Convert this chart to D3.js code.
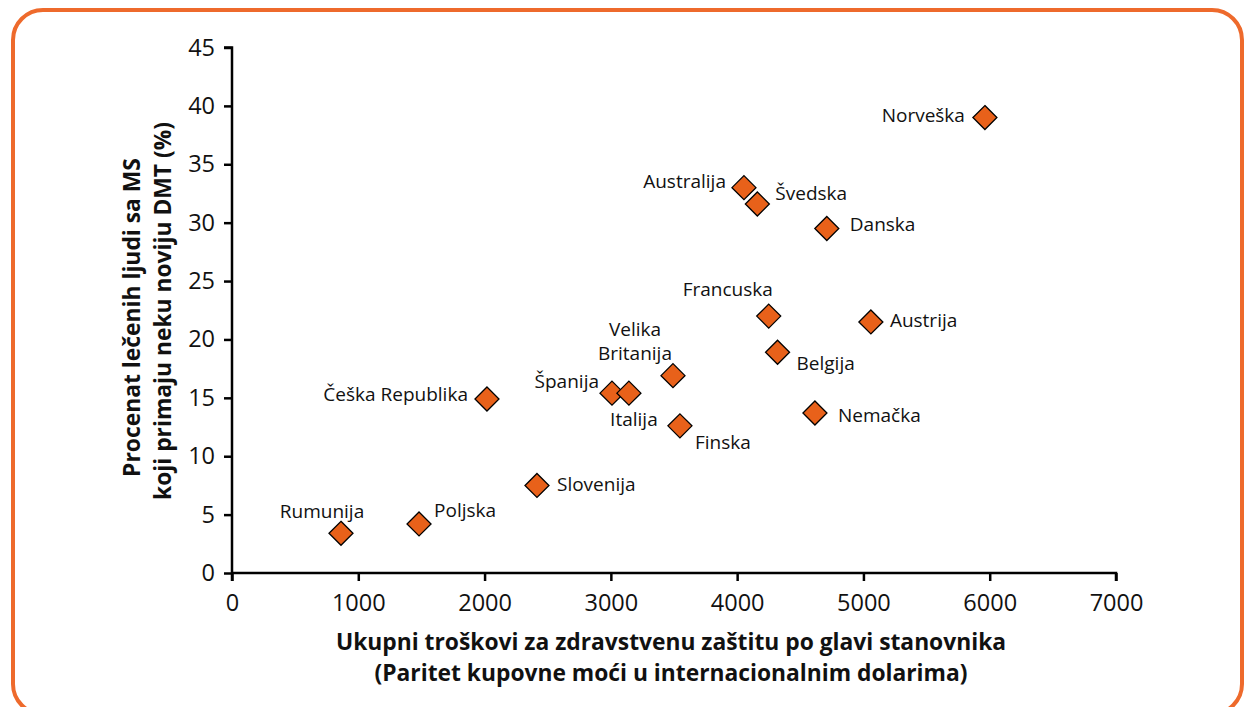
<!DOCTYPE html>
<html>
<head>
<meta charset="utf-8">
<script src="https://cdn.jsdelivr.net/npm/d3@7"></script>
<style>
  html, body { margin: 0; padding: 0; background: #fff; }
  svg { display: block; }
  text { font-family: "Open Sans", "Noto Sans", sans-serif; fill: #111; }
</style>
</head>
<body>
<svg id="chart" width="1247" height="707"></svg>
<script>
// ---- data ----
const countries = ["Rumunija", "Poljska", "Češka Republika", "Slovenija", "Španija", "Italija",
  "Velika Britanija", "Finska", "Australija", "Švedska", "Danska", "Francuska", "Belgija",
  "Austrija", "Nemačka", "Norveška"];
const spending = [863, 1481, 2019, 2415, 3009, 3143, 3492, 3547, 4054, 4160, 4710, 4250, 4320, 5059, 4616, 5962];
const treatedPct = [3.4, 4.2, 14.9, 7.5, 15.4, 15.4, 16.9, 12.6, 33.0, 31.6, 29.5, 22.0, 18.9, 21.5, 13.7, 39.0];
const xTicks = [0, 1000, 2000, 3000, 4000, 5000, 6000, 7000];
const yTicks = [0, 5, 10, 15, 20, 25, 30, 35, 40, 45];
const xTitle = ["Ukupni troškovi za zdravstvenu zaštitu po glavi stanovnika",
                "(Paritet kupovne moći u internacionalnim dolarima)"];
const yTitle = ["Procenat lečenih ljudi sa MS", "koji primaju neku noviju DMT (%)"];

// ---- layout (label placement relative to each marker) ----
const labelLayout = {
  "Rumunija": { anchor: "middle", dx: -19, dy: [-22] },
  "Poljska": { anchor: "start", dx: 15, dy: [-14] },
  "Češka Republika": { anchor: "end", dx: -19, dy: [-5] },
  "Slovenija": { anchor: "start", dx: 20, dy: [-1] },
  "Španija": { anchor: "end", dx: -13, dy: [-12] },
  "Italija": { anchor: "middle", dx: 5, dy: [26] },
  "Velika Britanija": { anchor: "middle", dx: -38, dy: [-46, -22], lines: ["Velika", "Britanija"] },
  "Finska": { anchor: "start", dx: 15, dy: [16] },
  "Australija": { anchor: "end", dx: -18, dy: [-6] },
  "Švedska": { anchor: "start", dx: 18, dy: [-11] },
  "Danska": { anchor: "start", dx: 23, dy: [-4] },
  "Francuska": { anchor: "middle", dx: -41, dy: [-27] },
  "Belgija": { anchor: "start", dx: 19, dy: [11] },
  "Austrija": { anchor: "start", dx: 19, dy: [-2] },
  "Nemačka": { anchor: "start", dx: 23, dy: [2] },
  "Norveška": { anchor: "end", dx: -20, dy: [-2] }
};

const svg = d3.select("#chart");

// frame
svg.append("rect")
  .attr("x", 13).attr("y", 10)
  .attr("width", 1229).attr("height", 704)
  .attr("rx", 30).attr("ry", 30)
  .attr("fill", "#fff")
  .attr("stroke", "#EE6A2C")
  .attr("stroke-width", 4);

const x = d3.scaleLinear().domain([0, 7000]).range([232, 1116]);
const y = d3.scaleLinear().domain([0, 45]).range([573, 47.5]);

// axes
const xAxis = svg.append("g")
  .attr("transform", `translate(0,${y(0)})`)
  .call(d3.axisBottom(x).tickValues(xTicks).tickSize(8).tickPadding(13).tickSizeOuter(0).tickFormat(d3.format("d")));
const yAxis = svg.append("g")
  .attr("transform", `translate(${x(0)},0)`)
  .call(d3.axisLeft(y).tickValues(yTicks).tickSize(8).tickPadding(9).tickSizeOuter(0));

[xAxis, yAxis].forEach(g => {
  g.select(".domain").attr("stroke", "#000").attr("stroke-width", 2.5);
  g.selectAll(".tick line").attr("stroke", "#000").attr("stroke-width", 2.5);
  g.selectAll(".tick text").attr("fill", "#111").style("font-size", "23.5px")
    .style("font-family", '"Open Sans", "Noto Sans", sans-serif');
});
xAxis.select(".domain").attr("fill", "none").attr("d", `M${x(0)},0H${x(7000)}V8`);
yAxis.select(".domain").attr("fill", "none").attr("d", `M-8,${y(45)}H0V${y(0) + 8}`);

// axis titles
const xt = svg.append("text")
  .attr("text-anchor", "middle")
  .style("font-size", "22.8px").style("font-weight", "bold");
xTitle.forEach((t, i) => {
  xt.append("tspan").attr("x", 671).attr("y", 650 + i * 31).text(t);
});

const yTitleCenters = [317.5, 311];
const yTitleLengths = [319, 378];
yTitle.forEach((t, i) => {
  const tx = svg.append("text")
    .attr("text-anchor", "middle")
    .attr("x", 0).attr("y", 0)
    .style("font-size", "22.8px").style("font-weight", "bold")
    .text(t);
  const natural = tx.node().getComputedTextLength();
  const k = natural > 0 ? yTitleLengths[i] / natural : 1;
  tx.attr("transform", `translate(${140 + i * 31},${yTitleCenters[i]}) rotate(-90) scale(${k},1)`);
});

// data points
const data = countries.map((c, i) => ({ name: c, sx: spending[i], sy: treatedPct[i] }));
const s = 12;
svg.append("g").selectAll("path")
  .data(data)
  .join("path")
  .attr("d", d => {
    const cx = x(d.sx), cy = y(d.sy);
    return `M${cx},${cy - s}L${cx + s},${cy}L${cx},${cy + s}L${cx - s},${cy}Z`;
  })
  .attr("fill", "#E8611A")
  .attr("stroke", "#000")
  .attr("stroke-width", 1.3);

// labels
const lg = svg.append("g");
data.forEach(d => {
  const L = labelLayout[d.name];
  const lines = L.lines || [d.name];
  lines.forEach((ln, j) => {
    lg.append("text")
      .attr("x", x(d.sx) + L.dx)
      .attr("y", y(d.sy) + L.dy[j])
      .attr("dy", "0.35em")
      .attr("text-anchor", L.anchor)
      .style("font-size", "19px")
      .text(ln);
  });
});
</script>
</body>
</html>
